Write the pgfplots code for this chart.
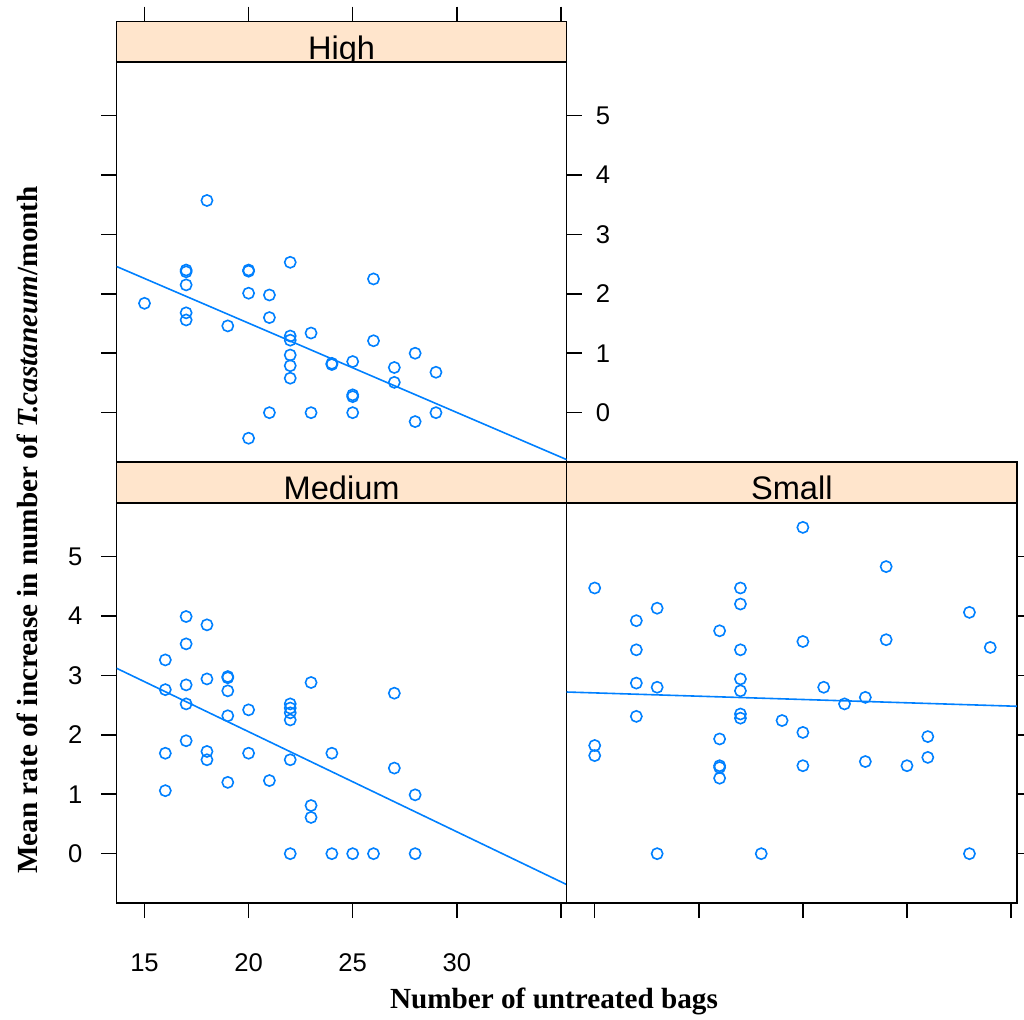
\documentclass[border=0pt]{standalone}
\usepackage{fontspec}
\setmainfont{Liberation Serif}
\newfontfamily\arial{Liberation Sans}
\usepackage{pgfplots}
\pgfplotsset{compat=1.18}
\definecolor{ptc}{HTML}{0080FF}
\definecolor{stripc}{HTML}{FFE5CC}

\pgfplotsset{
 panel/.style={scale only axis, width=225.1pt, height=200pt,
   xmin=13.655, xmax=35.28, ymin=-0.83, ymax=5.9,
   axis line style={line width=0.75pt},
   every tick/.style={black, line width=0.75pt},
   tick align=outside, major tick length=7.5pt,
   ticklabel style={font=\arial\fontsize{12.8}{13}\selectfont},
   /pgf/number format/assume math mode=true,
   xtick={15,20,25,30,35}, ytick={0,1,2,3,4,5}},
 strippanel/.style={scale only axis, width=225.1pt, height=20.25pt,
   xmin=13.655, xmax=35.28, ymin=0, ymax=1,
   axis background/.style={fill=stripc},
   axis line style={line width=0.75pt},
   every tick/.style={black, line width=0.75pt},
   tick align=outside, major tick length=7.5pt,
   ytick=\empty, xtick=\empty},
 pts/.style={only marks, mark=o, mark size=2.8pt, mark options={line width=0.8pt}, color=ptc},
 fitl/.style={no marks, color=ptc, line width=0.8pt},
}
\newcommand\striplabel[1]{\node[anchor=base, font=\arial\fontsize{16.3}{16}\selectfont, inner sep=0pt] at (axis description cs:0.5,0.07) {#1};}

\begin{document}
\begin{tikzpicture}
\useasboundingbox (0,0) rectangle (512pt,-509.5pt);

% ---------- High ----------
\begin{axis}[panel, at={(58.25pt,-231pt)}, anchor=south west,
  xtick=\empty, ytick pos=both, yticklabel pos=right,
  yticklabel style={xshift=3.5pt}]
\addplot[pts] coordinates {
(15,1.84)(18,3.57)(17,2.40)(17,2.37)(17,2.15)(17,1.68)(17,1.56)(19,1.46)
(20,2.40)(20,2.38)(20,2.01)(20,-0.43)(21,1.98)(21,1.60)(21,0)
(22,2.53)(22,1.29)(22,1.22)(22,0.97)(22,0.79)(22,0.58)
(23,1.34)(23,0)(24,0.81)(24,0.83)(25,0.86)(25,0.30)(25,0.27)(25,0)
(26,2.25)(26,1.21)(27,0.76)(27,0.51)(28,1.00)(28,-0.15)(29,0.68)(29,0)
};
\addplot[fitl] coordinates {(13.655,2.46) (35.28,-0.79)};
\end{axis}
\begin{axis}[strippanel, at={(58.25pt,-31pt)}, anchor=south west,
  xtick={15,20,25,30,35}, xtick pos=upper, xticklabels={}]
\striplabel{High}
\end{axis}

% ---------- Medium ----------
\begin{axis}[panel, at={(58.25pt,-451.5pt)}, anchor=south west,
  xtick pos=lower, ytick pos=left,
  xticklabels={15,20,25,30,},
  xticklabel style={yshift=-14.5pt}, yticklabel style={xshift=-6pt}]
\addplot[pts] coordinates {
(17,3.99)(18,3.85)(17,3.53)(16,3.26)(19,2.98)(19,2.96)(18,2.94)(17,2.84)
(16,2.76)(19,2.74)(23,2.88)(22,2.52)(22,2.45)(22,2.37)(22,2.25)(17,2.52)
(20,2.42)(19,2.32)(17,1.90)(18,1.72)(18,1.58)(16,1.69)(20,1.69)(24,1.69)
(22,1.58)(19,1.20)(21,1.23)(16,1.06)(23,0.81)(23,0.61)(22,0)(24,0)
(27,2.70)(27,1.44)(28,0.99)(25,0)(26,0)(28,0)
};
\addplot[fitl] coordinates {(13.655,3.12) (35.28,-0.52)};
\end{axis}
\begin{axis}[strippanel, at={(58.25pt,-251.25pt)}, anchor=south west]
\striplabel{Medium}
\end{axis}

% ---------- Small ----------
\begin{axis}[panel, at={(283.35pt,-451.5pt)}, anchor=south west,
  xtick pos=lower, ytick pos=right, xticklabels={}, yticklabels={}]
\addplot[pts] coordinates {
(15,4.47)(15,1.82)(15,1.65)(17,3.92)(17,3.43)(17,2.87)(17,2.31)(18,4.13)
(18,2.80)(18,0)(21,3.75)(21,1.93)(21,1.48)(21,1.45)(21,1.27)(22,4.47)
(22,4.20)(22,3.43)(22,2.94)(22,2.74)(22,2.35)(22,2.28)(23,0)(24,2.24)
(25,5.49)(25,3.57)(25,2.04)(25,1.48)(26,2.80)(27,2.52)(28,2.63)(28,1.55)
(29,4.83)(29,3.60)(30,1.48)(31,1.97)(31,1.62)(33,4.06)(33,0)(34,3.47)
};
\addplot[fitl] coordinates {(13.655,2.72) (35.28,2.48)};
\end{axis}
\begin{axis}[strippanel, at={(283.35pt,-251.25pt)}, anchor=south west]
\striplabel{Small}
\end{axis}

% ---------- axis titles ----------
\node[font=\bfseries\fontsize{14.6}{15}\selectfont] at (277pt,-500.5pt) {Number of untreated bags};
\node[rotate=90, font=\bfseries\fontsize{14.6}{15}\selectfont] at (13.5pt,-265pt) {Mean rate of increase in number of \textit{T.castaneum}/month};
\end{tikzpicture}
\end{document}
